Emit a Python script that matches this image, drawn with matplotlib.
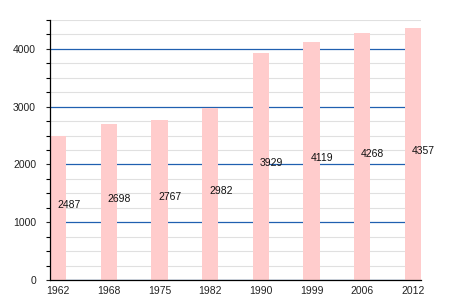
import matplotlib
matplotlib.use('Agg')
import matplotlib.pyplot as plt
from matplotlib.ticker import MultipleLocator

# population by census year
years = ['1962', '1968', '1975', '1982', '1990', '1999', '2006', '2012']
population = [2487, 2698, 2767, 2982, 3929, 4119, 4268, 4357]

plt.rcParams['font.family'] = ['Liberation Sans', 'DejaVu Sans']

fig = plt.figure(figsize=(4.5, 3.0), dpi=100)
ax = fig.add_axes([50/450., 20/300., 371/450., 260/300.])

x = list(range(len(years)))
ax.bar(x, population, width=0.32, color='#ffcccc', zorder=2)

for i, v in enumerate(population):
    ax.text(i - 0.02, v/2., str(v), ha='left', va='baseline',
            fontsize=7.5, color='#111111', zorder=3)

ax.set_xlim(-0.16, 7.16)
ax.set_ylim(0, 4500)
ax.set_xticks(x)
ax.set_xticklabels(years)

ax.yaxis.set_major_locator(MultipleLocator(1000))
ax.yaxis.set_minor_locator(MultipleLocator(250))
ax.grid(True, which='minor', axis='y', color='#e0e0e0', linewidth=0.8, zorder=0)
ax.grid(True, which='major', axis='y', color='#2060b0', linewidth=0.9, zorder=1)
ax.set_axisbelow(True)

ax.tick_params(axis='x', length=0, pad=4, labelsize=7.5, colors='#222222')
ax.tick_params(axis='y', which='major', length=3, width=0.8, pad=7,
               labelsize=7.5, colors='#222222')
ax.tick_params(axis='y', which='minor', length=3, width=0.8)

for s in ['top', 'right']:
    ax.spines[s].set_visible(False)
ax.spines['left'].set_linewidth(0.9)
ax.spines['bottom'].set_linewidth(0.9)

fig.savefig('out.png', dpi=100)
